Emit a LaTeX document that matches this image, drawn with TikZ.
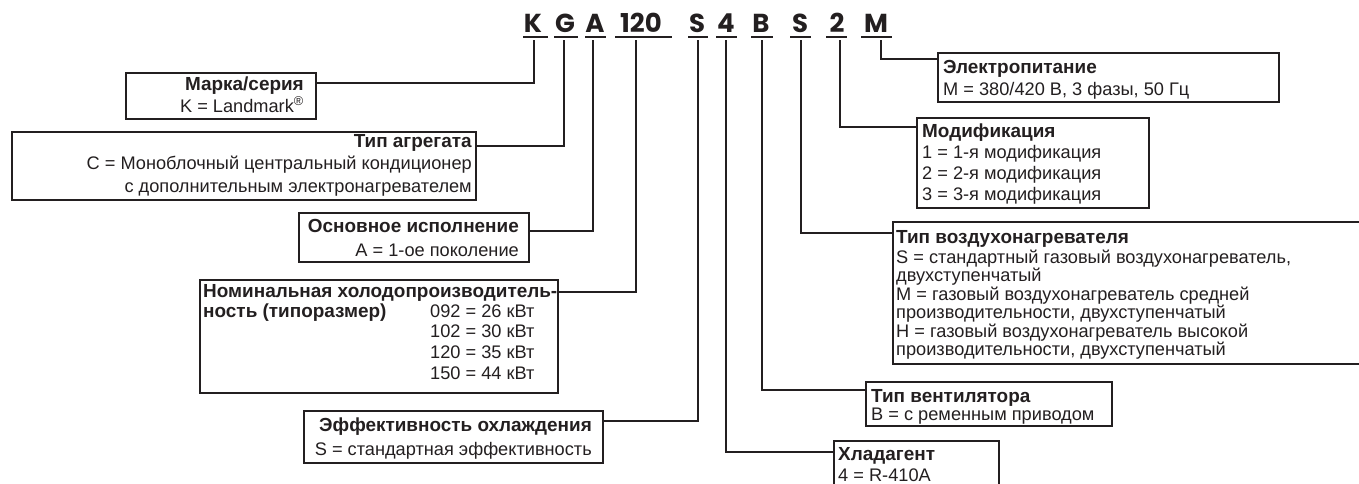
\documentclass[tikz,border=0pt]{standalone}
\usepackage{fontspec}
\setmainfont{Liberation Sans}[BoldFeatures={Scale=1.04}]
\newfontfamily\codefont{Poppins}
\usetikzlibrary{calc}
\definecolor{ink}{RGB}{35,31,32}
\begin{document}
\begin{tikzpicture}[x=1pt,y=-1pt,
  box/.style={draw=ink, line width=2pt, inner sep=0pt, outer sep=0pt, anchor=north west, rectangle},
  conn/.style={draw=ink, line width=2pt},
  uline/.style={draw=ink, line width=2.6pt},
  code/.style={font=\codefont\bfseries\fontsize{26}{30}\selectfont, text=ink, inner sep=0pt, anchor=base},
  txt/.style={font=\fontsize{18.2}{#1}\selectfont, text=ink, inner sep=0pt},
]
\useasboundingbox (0,0) rectangle (1359,483);
\clip (0,0) rectangle (1359,483);

% code letters
\node[code] (K)  at (533,32) {K};
\node[code] (G)  at (565,32) {G};
\node[code] (A)  at (595,32) {A};
\node[code] (N120) at (641,32) {120};
\node[code] (S1) at (697,32) {S};
\node[code] (F4) at (726,32) {4};
\node[code] (B)  at (761,32) {B};
\node[code] (S2) at (800,32) {S};
\node[code] (D2) at (837,32) {2};
\node[code] (M)  at (876,32) {M};

\draw[uline] (523,37) -- (548,37);
\draw[uline] (554,37) -- (578,37);
\draw[uline] (585,37) -- (606,37);
\draw[uline] (615,37) -- (672,37);
\draw[uline] (688,37) -- (708,37);
\draw[uline] (716,37) -- (737,37);
\draw[uline] (751,37) -- (773,37);
\draw[uline] (790,37) -- (811,37);
\draw[uline] (826,37) -- (847,37);
\draw[uline] (861,37) -- (892,37);

% line tops
\coordinate (tK) at (534,40);
\coordinate (tG) at (564,40);
\coordinate (tA) at (593,40);
\coordinate (t120) at (636,40);
\coordinate (tS1) at (698,40);
\coordinate (t4) at (726,40);
\coordinate (tB) at (762,40);
\coordinate (tS2) at (801,40);
\coordinate (t2) at (840,40);
\coordinate (tM) at (881,40);

% boxes
\node[box, minimum width=190pt, minimum height=46pt] (marka) at (126,73) {};
\node[box, minimum width=464pt, minimum height=68pt] (agr) at (12,132) {};
\node[box, minimum width=230pt, minimum height=49pt] (osn) at (299,213) {};
\node[box, minimum width=358pt, minimum height=113pt] (nom) at (200,280) {};
\node[box, minimum width=299pt, minimum height=52pt] (eff) at (304,411) {};
\node[box, minimum width=341pt, minimum height=49pt] (power) at (938,53) {};
\node[box, minimum width=232pt, minimum height=90pt] (mod) at (917,118) {};
\node[box, minimum width=480pt, minimum height=142pt] (heat) at (893,222) {};
\node[box, minimum width=246pt, minimum height=44pt] (fan) at (866,382) {};
\node[box, minimum width=165pt, minimum height=70pt] (hlad) at (834,441) {};

% connectors
\draw[conn] (tK) |- ([yshift=-10pt]marka.north east);
\draw[conn] (tG) |- ([yshift=-14pt]agr.north east);
\draw[conn] (tA) |- ([yshift=-18pt]osn.north east);
\draw[conn] (t120) |- ([yshift=-12pt]nom.north east);
\draw[conn] (tS1) |- ([yshift=-10pt]eff.north east);
\draw[conn] (t4) |- ([yshift=-11pt]hlad.north west);
\draw[conn] (tB) |- ([yshift=-8pt]fan.north west);
\draw[conn] (tS2) |- ([yshift=-11pt]heat.north west);
\draw[conn] (t2) |- ([yshift=-9pt]mod.north west);
\draw[conn] (tM) |- ([yshift=-6pt]power.north west);

% texts
\node[txt=22, anchor=north east, align=right] (xmarka) at (304,74.6)
  {\strut\textbf{Марка/серия}\\K = Landmark\textsuperscript{®}};
\node[txt=22.5, anchor=north east, align=right] (xagr) at (472,131.25)
  {\strut\textbf{Тип агрегата}\\C = Моноблочный центральный кондиционер\\с дополнительным электронагревателем};
\node[txt=24, anchor=north east, align=right] (xosn) at (519,215.2)
  {\strut\textbf{Основное исполнение}\\A = 1-ое поколение};
\node[txt=20.8, anchor=north west, align=left] (xnom) at (203,282.4)
  {\strut\textbf{Номинальная холодопроизводитель-}\\\textbf{ность (типоразмер)}};
\node[txt=20.8, anchor=north west, align=left] (xnomv) at (430,302.4)
  {\strut 092 = 26 кВт\\102 = 30 кВт\\120 = 35 кВт\\150 = 44 кВт};
\node[txt=24, anchor=north east, align=right] (xeff) at (592,414.2)
  {\strut\textbf{Эффективность охлаждения}\\S = стандартная эффективность};
\node[txt=22, anchor=north west, align=left] (xpower) at (943,57.6)
  {\strut\textbf{Электропитание}\\M = 380/420 В, 3 фазы, 50 Гц};
\node[txt=21, anchor=north west, align=left] (xmod) at (922,122.3)
  {\strut\textbf{Модификация}\\1 = 1-я модификация\\2 = 2-я модификация\\3 = 3-я модификация};
\node[txt=18.5, anchor=north west, align=left] (xheat) at (896,230.05)
  {\strut\textbf{Тип воздухонагревателя}\\S = стандартный газовый воздухонагреватель,\\двухступенчатый\\M = газовый воздухонагреватель средней\\производительности, двухступенчатый\\H = газовый воздухонагреватель высокой\\производительности, двухступенчатый};
\node[txt=18, anchor=north west, align=left] (xfan) at (871,389.4)
  {\strut\textbf{Тип вентилятора}\\B = с ременным приводом};
\node[txt=21, anchor=north west, align=left] (xhlad) at (838,445.3)
  {\strut\textbf{Хладагент}\\4 = R-410A};
\end{tikzpicture}
\end{document}
